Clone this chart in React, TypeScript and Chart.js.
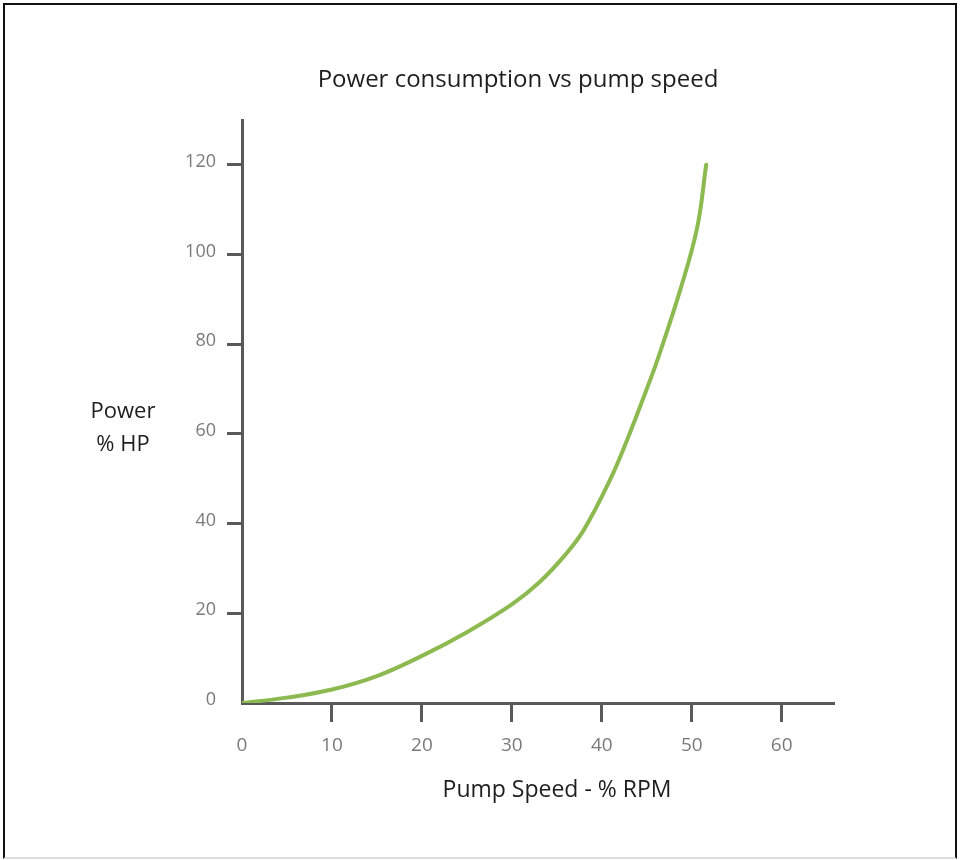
import React, { useEffect, useRef } from "react";
import { Chart, registerables } from "chart.js";

Chart.register(...registerables);

const titleText = "Power consumption vs pump speed";
const xAxisTitle = "Pump Speed - % RPM";
const yAxisTitle = ["Power", "% HP"];

const pumpSpeed = [0, 5, 10, 15, 20, 25, 30, 33, 36, 38, 40.9, 42.8, 45.2, 46.3, 48.7, 50.6, 51.6];
const powerHP = [0, 1.2, 3.0, 6.0, 10.5, 15.8, 22, 26.8, 33.2, 38.6, 49.7, 58.6, 71.1, 77.2, 92, 106, 120];

const xTicks = [0, 10, 20, 30, 40, 50, 60];
const yTicks = [0, 20, 40, 60, 80, 100, 120];

const FONT = "'Open Sans', sans-serif";
const AXIS = "#5a5a5a";

const textPlugin = {
  id: "textPlugin",
  afterDraw(chart: any) {
    const ctx = chart.ctx;
    const area = chart.chartArea;
    ctx.save();
    ctx.textAlign = "center";
    ctx.textBaseline = "middle";
    ctx.fillStyle = "#1e1e1e";
    ctx.font = `24px ${FONT}`;
    ctx.fillText(titleText, 518, 80);
    ctx.font = `22px ${FONT}`;
    ctx.fillText(yAxisTitle[0], 123, 412);
    ctx.fillText(yAxisTitle[1], 123, 445);
    ctx.font = `23px ${FONT}`;
    ctx.fillText(xAxisTitle, 557, area.bottom + 87);
    ctx.restore();
  },
};

export default function App() {
  const ref = useRef<HTMLCanvasElement | null>(null);
  useEffect(() => {
    if (!ref.current) return;
    const chart = new Chart(ref.current, {
      type: "scatter",
      data: {
        datasets: [
          {
            data: pumpSpeed.map((x, i) => ({ x, y: powerHP[i] })),
            showLine: true,
            borderColor: "#8cba50",
            borderWidth: 4,
            borderCapStyle: "round",
            pointRadius: 0,
            tension: 0.4,
            fill: false,
          },
        ],
      },
      options: {
        animation: false,
        responsive: false,
        maintainAspectRatio: false,
        layout: { padding: { top: 120, right: 127, left: 0, bottom: 0 } },
        plugins: {
          legend: { display: false },
          tooltip: { enabled: false },
          title: { display: false },
        },
        scales: {
          x: {
            type: "linear",
            min: 0,
            max: 65.7,
            afterFit: (s: any) => {
              s.height = 157;
            },
            afterBuildTicks: (s: any) => {
              s.ticks = xTicks.map((v) => ({ value: v }));
            },
            ticks: {
              color: "#7a7a7a",
              font: { family: FONT, size: 19 },
              padding: 12,
              maxRotation: 0,
            },
            grid: {
              drawOnChartArea: false,
              drawTicks: true,
              tickLength: 19,
              lineWidth: 3,
              color: (c: any) => (c.tick && c.tick.value === 0 ? "rgba(0,0,0,0)" : AXIS),
            },
            border: { display: true, color: AXIS, width: 3 },
          },
          y: {
            type: "linear",
            min: 0,
            max: 130,
            afterFit: (s: any) => {
              s.width = 242;
            },
            afterBuildTicks: (s: any) => {
              s.ticks = yTicks.map((v) => ({ value: v }));
            },
            ticks: {
              color: "#7a7a7a",
              font: { family: FONT, size: 18 },
              padding: 11,
              labelOffset: -3,
            },
            grid: {
              drawOnChartArea: false,
              drawTicks: true,
              tickLength: 15,
              lineWidth: 3,
              color: (c: any) => (c.tick && c.tick.value === 0 ? "rgba(0,0,0,0)" : AXIS),
            },
            border: { display: true, color: AXIS, width: 3 },
          },
        },
      },
      plugins: [textPlugin],
    });
    return () => chart.destroy();
  }, []);

  return (
    <div style={{ position: "fixed", left: 0, top: 0, width: 960, height: 860, background: "#fff" }}>
      <div
        style={{
          position: "absolute",
          left: 3,
          top: 3,
          width: 954,
          height: 856,
          border: "2px solid #111",
          borderBottomColor: "#ddd",
          boxSizing: "border-box",
        }}
      />
      <canvas ref={ref} width={960} height={860} style={{ position: "absolute", left: 0, top: 0 }} />
    </div>
  );
}
